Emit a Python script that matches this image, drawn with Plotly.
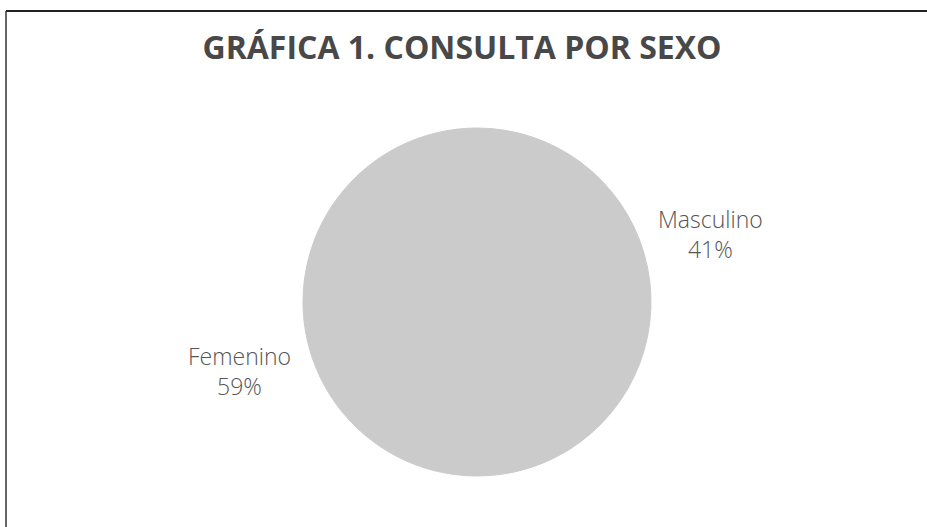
import math
import plotly.graph_objects as go

categories = ["Masculino", "Femenino"]
values = [41, 59]
title_text = "GRÁFICA 1. CONSULTA POR SEXO"

W, H = 927, 527

# pie geometry (pixels, page coordinates)
CX, CY, R = 477, 302, 174
label_dist = [1.40, 1.42]  # label distance from centre, in radii

fig = go.Figure(
    go.Pie(
        labels=categories,
        values=values,
        sort=False,
        direction="clockwise",
        rotation=0,
        marker=dict(colors=["#cbcbcb", "#cbcbcb"], line=dict(color="#cbcbcb", width=1)),
        textinfo="none",
        domain=dict(x=[(CX - R) / W, (CX + R) / W], y=[1 - (CY + R) / H, 1 - (CY - R) / H]),
        showlegend=False,
        hoverinfo="label+percent",
    )
)

# outside labels placed at each slice's mid-angle
total = sum(values)
annotations = []
cum = 0
for name, v, d in zip(categories, values, label_dist):
    mid = (cum + v / 2) / total * 2 * math.pi
    cum += v
    px = CX + d * R * math.sin(mid)
    py = CY - d * R * math.cos(mid)
    annotations.append(dict(
        x=px / W, y=1 - py / H, xref="paper", yref="paper",
        xanchor="center", yanchor="middle", showarrow=False, align="center",
        text=f"{name}<br>{round(v / total * 100)}%",
        font=dict(family="Open Sans", size=23, color="#555555", weight=300),
    ))

fig.update_layout(
    width=W,
    height=H,
    margin=dict(l=0, r=0, t=0, b=0),
    paper_bgcolor="white",
    plot_bgcolor="white",
    title=dict(
        text=title_text,
        x=462 / W,
        xanchor="center",
        y=1 - 48 / H,
        yanchor="middle",
        font=dict(family="Open Sans", size=32, color="#484848", weight="bold"),
    ),
    annotations=annotations,
    shapes=[
        dict(type="line", xref="paper", yref="paper",
             x0=6 / W, x1=1.0, y0=1 - 11 / H, y1=1 - 11 / H,
             line=dict(color="#222222", width=2)),
        dict(type="line", xref="paper", yref="paper",
             x0=6 / W, x1=6 / W, y0=1 - 11 / H, y1=0,
             line=dict(color="#333333", width=1.5)),
    ],
)

fig.write_html("out.html", config={"displayModeBar": False},
               post_script="document.body.style.margin='0';")
